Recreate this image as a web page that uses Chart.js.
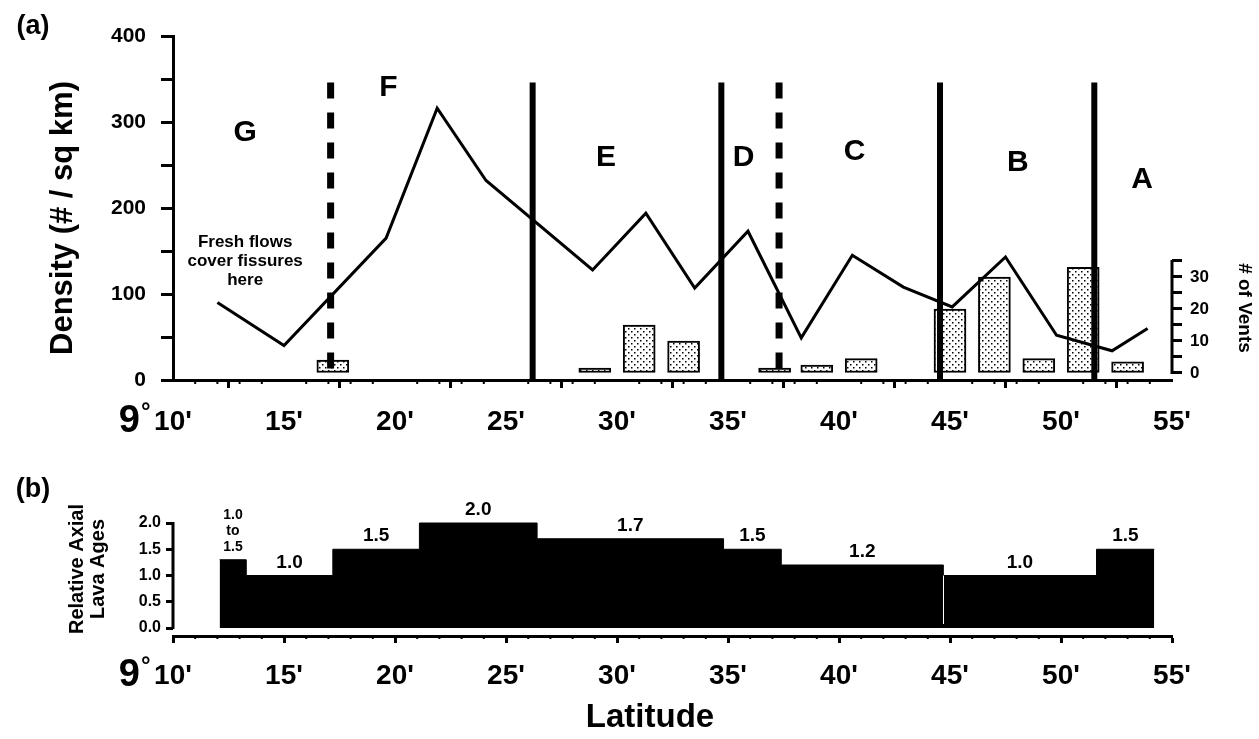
<!DOCTYPE html>
<html>
<head>
<meta charset="utf-8">
<title>Fissure density, vents and relative lava ages, 9°10'-55'N</title>
<script src="https://cdn.jsdelivr.net/npm/chart.js@4.4.1/dist/chart.umd.min.js"></script>
<style>
  html, body { margin: 0; padding: 0; background: #fff; }
  #figure { position: relative; width: 1259px; height: 739px; overflow: hidden; }
  #figure canvas { position: absolute; left: 0; }
  #densityChart { top: 0; }
  #ageChart { top: 450px; }
</style>
</head>
<body>
<div id="figure">
  <canvas id="densityChart" width="1259" height="450"></canvas>
  <canvas id="ageChart" width="1259" height="289"></canvas>
</div>
<script>
// (a) fissure density along the axis, latitude in minutes north of 9°N
var densityLat = [12.0, 15.0, 19.6, 21.9, 24.1, 28.9, 31.3, 33.5, 35.9, 38.3, 40.6, 42.9, 45.1, 47.5, 49.8, 52.3, 53.9];
var density = [90, 40, 165, 316, 232, 128, 194, 107, 173, 49, 145, 108, 85, 143, 52, 34, 60];

// (a) number of vents (stippled bars, right-hand axis)
var ventLat = [17.2, 29.0, 31.0, 33.0, 37.1, 39.0, 41.0, 45.0, 47.0, 49.0, 51.0, 53.0];
var ventCount = [4, 1.5, 15, 10, 1.5, 2.5, 4.5, 20, 30, 4.5, 33, 3.5];

// segment boundaries and names, G in the south to A in the north
var boundaryLat = [17.1, 26.2, 34.7, 37.3, 44.55, 51.5];
var boundaryDashed = [true, false, false, true, false, false];
var segmentNames = ['G', 'F', 'E', 'D', 'C', 'B', 'A'];

// (b) relative axial lava ages, one step per stretch of ridge
var ageFrom = [12.1, 13.3, 17.2, 21.1, 26.4, 34.8, 37.4, 44.7, 51.6];
var ageTo = 54.2;
var ageValue = [1.3, 1.0, 1.5, 2.0, 1.7, 1.5, 1.2, 1.0, 1.5];
var ageText = ['1.0\nto\n1.5', '1.0', '1.5', '2.0', '1.7', '1.5', '1.2', '1.0', '1.5'];

// tick labels
var latTicks = [10, 15, 20, 25, 30, 35, 40, 45, 50, 55];
var densityTicks = [0, 100, 200, 300, 400];
var ventTicks = [0, 10, 20, 30];
var ageTicks = [0, 0.5, 1.0, 1.5, 2.0];

var FONT = "'Liberation Sans', Arial, Helvetica, sans-serif";
var NARROW = "'Liberation Sans Narrow', " + FONT;
var INK = '#000';

// where the segment letters sit, as [latitude, density]
var nameSpots = [[13.25, 287], [19.7, 340], [29.5, 258], [35.7, 258], [40.7, 266], [48.05, 253], [53.65, 233]];

function text(ctx, str, x, y, size, align, rot, family) {
    ctx.save();
    ctx.translate(x, y);
    if (rot) ctx.rotate(rot);
    ctx.font = 'bold ' + size + 'px ' + (family || FONT);
    ctx.fillStyle = INK;
    ctx.textAlign = align || 'center';
    ctx.textBaseline = 'middle';
    ctx.fillText(str, 0, 0);
    ctx.restore();
}

function minorTicks(chart, len) {
    var ctx = chart.ctx, x = chart.scales.x;
    ctx.save();
    ctx.strokeStyle = INK;
    ctx.lineWidth = 2;
    for (var v = x.min; v <= x.max; v++) {
        if (v % 5 === 0) continue;
        var px = x.getPixelForValue(v);
        ctx.beginPath();
        ctx.moveTo(px, x.top);
        ctx.lineTo(px, x.top + len);
        ctx.stroke();
    }
    ctx.restore();
}

function degreeMark(ctx, xScale, cy) {
    var px = xScale.getPixelForValue(10);
    text(ctx, '9', px - 33, cy, 38, 'right', 0, NARROW);
    text(ctx, '°', px - 32, cy - 10, 24, 'left');
}

function makeDots(ctx) {
    var c = document.createElement('canvas');
    c.width = 6;
    c.height = 6;
    var g = c.getContext('2d');
    g.fillStyle = '#fff';
    g.fillRect(0, 0, 6, 6);
    g.fillStyle = INK;
    g.fillRect(1, 1, 1.5, 1.5);
    g.fillRect(4, 4, 1.5, 1.5);
    return ctx.createPattern(c, 'repeat');
}

function latAxis(tickLen, pad, height) {
    return {
        type: 'linear',
        min: 10,
        max: 55,
        offset: false,
        afterBuildTicks: function (s) {
            s.ticks = latTicks.map(function (v) { return { value: v }; });
        },
        ticks: {
            autoSkip: false,
            maxRotation: 0,
            color: INK,
            padding: pad,
            font: { family: NARROW, size: 28, weight: 'bold' },
            callback: function (v) { return v + "'"; }
        },
        grid: { drawOnChartArea: false, tickLength: tickLen, tickWidth: 3, tickColor: INK },
        border: { color: INK, width: 3 },
        afterFit: function (s) { s.height = height; }
    };
}

var densityDecor = {
    id: 'densityDecor',
    afterDatasetsDraw: function (chart) {
        var ctx = chart.ctx, x = chart.scales.x, y = chart.scales.y;
        ctx.save();
        ctx.strokeStyle = INK;
        boundaryLat.forEach(function (lat, i) {
            var px = x.getPixelForValue(lat);
            ctx.lineWidth = boundaryDashed[i] ? 7 : 6;
            ctx.setLineDash(boundaryDashed[i] ? [16, 14] : []);
            ctx.beginPath();
            ctx.moveTo(px, y.getPixelForValue(346));
            ctx.lineTo(px, y.getPixelForValue(0));
            ctx.stroke();
        });
        ctx.restore();
    },
    afterDraw: function (chart) {
        var ctx = chart.ctx, x = chart.scales.x, y = chart.scales.y, y2 = chart.scales.y2;
        ctx.save();
        ctx.strokeStyle = INK;
        ctx.lineWidth = 3;
        ctx.beginPath();
        ctx.moveTo(y2.left, y2.getPixelForValue(0) + 1);
        ctx.lineTo(y2.left, y2.getPixelForValue(35) - 1);
        ctx.stroke();
        ctx.restore();
        minorTicks(chart, 4);

        segmentNames.forEach(function (n, i) {
            text(ctx, n, x.getPixelForValue(nameSpots[i][0]), y.getPixelForValue(nameSpots[i][1]), 30);
        });
        ['Fresh flows', 'cover fissures', 'here'].forEach(function (s, i) {
            text(ctx, s, x.getPixelForValue(13.25), 242 + i * 19, 17);
        });
        text(ctx, '(a)', 33, 27, 27);
        text(ctx, 'Density (# / sq km)', 63, 218, 31, 'center', -Math.PI / 2);
        text(ctx, '# of Vents', 1244, 308, 19, 'center', Math.PI / 2);
        degreeMark(ctx, x, 422);
    }
};

var ageDecor = {
    id: 'ageDecor',
    afterDatasetsDraw: function (chart) {
        var ctx = chart.ctx, x = chart.scales.x, y = chart.scales.y;
        // hairline gap between the 1.2 and 1.0 blocks
        var px = Math.round(x.getPixelForValue(ageFrom[7])) + 0.5;
        ctx.save();
        ctx.strokeStyle = '#fff';
        ctx.lineWidth = 1;
        ctx.beginPath();
        ctx.moveTo(px, y.getPixelForValue(0) - 4);
        ctx.lineTo(px, y.getPixelForValue(ageValue[7]));
        ctx.stroke();
        ctx.restore();
    },
    afterDraw: function (chart) {
        var ctx = chart.ctx, x = chart.scales.x, y = chart.scales.y;
        ctx.save();
        ctx.strokeStyle = INK;
        ctx.lineWidth = 3;
        ctx.beginPath();
        ctx.moveTo(y.right, y.getPixelForValue(0) + 1);
        ctx.lineTo(y.right, y.getPixelForValue(2) - 1);
        ctx.stroke();
        ctx.restore();
        minorTicks(chart, 3);

        ageFrom.forEach(function (from, i) {
            var to = i + 1 < ageFrom.length ? ageFrom[i + 1] : ageTo;
            var cx = x.getPixelForValue((from + to) / 2);
            var top = y.getPixelForValue(ageValue[i]);
            var lines = ageText[i].split('\n');
            var size = lines.length > 1 ? 14 : 19;
            lines.forEach(function (s, k) {
                text(ctx, s, cx, top - 13 - (lines.length - 1 - k) * 16, size);
            });
        });
        text(ctx, '(b)', 33, 40, 27);
        text(ctx, 'Relative Axial', 77, 119, 20, 'center', -Math.PI / 2);
        text(ctx, 'Lava Ages', 98, 119, 20, 'center', -Math.PI / 2);
        text(ctx, 'Latitude', 650, 268, 33);
        degreeMark(ctx, x, 226);
    }
};

var dCanvas = document.getElementById('densityChart');
var dots = makeDots(dCanvas.getContext('2d'));

new Chart(dCanvas, {
    type: 'line',
    data: {
        datasets: [{
            type: 'line',
            label: 'Density (# / sq km)',
            data: densityLat.map(function (lat, i) { return { x: lat, y: density[i] }; }),
            yAxisID: 'y',
            borderColor: INK,
            borderWidth: 3,
            pointRadius: 0,
            tension: 0,
            fill: false,
            order: 0
        }, {
            type: 'bar',
            label: '# of Vents',
            data: ventLat.map(function (lat, i) { return { x: lat, y: ventCount[i] }; }),
            yAxisID: 'y2',
            backgroundColor: dots,
            borderColor: INK,
            borderWidth: 2,
            borderSkipped: false,
            barThickness: 32,
            order: 1
        }]
    },
    options: {
        responsive: false,
        animation: false,
        layout: { padding: { top: 36 } },
        plugins: { legend: { display: false }, tooltip: { enabled: false } },
        scales: {
            x: latAxis(8, 17, 70),
            y: {
                min: 0,
                max: 400,
                ticks: {
                    stepSize: 50,
                    color: INK,
                    padding: 15,
                    font: { family: FONT, size: 21, weight: 'bold' },
                    callback: function (v) { return densityTicks.indexOf(v) >= 0 ? String(v) : ''; }
                },
                grid: { drawOnChartArea: false, tickLength: 12, tickWidth: 3, tickColor: INK },
                border: { color: INK, width: 3 },
                afterFit: function (s) { s.width = 173; }
            },
            y2: {
                position: 'right',
                min: -2.19,
                max: 105.3,
                afterBuildTicks: function (s) {
                    var marks = [];
                    for (var v = 0; v <= 35; v += 5) marks.push({ value: v });
                    s.ticks = marks;
                },
                ticks: {
                    color: INK,
                    padding: 8,
                    font: { family: FONT, size: 17, weight: 'bold' },
                    callback: function (v) { return ventTicks.indexOf(v) >= 0 ? String(v) : ''; }
                },
                grid: { drawOnChartArea: false, tickLength: 10, tickWidth: 3, tickColor: INK },
                border: { display: false },
                afterFit: function (s) { s.width = 87; }
            }
        }
    },
    plugins: [densityDecor]
});

var agePoints = ageFrom.map(function (lat, i) { return { x: lat, y: ageValue[i] }; });
agePoints.push({ x: ageTo, y: ageValue[ageValue.length - 1] });

new Chart(document.getElementById('ageChart'), {
    type: 'line',
    data: {
        datasets: [{
            label: 'Relative Axial Lava Ages',
            data: agePoints,
            stepped: 'before',
            fill: 'origin',
            backgroundColor: INK,
            borderColor: INK,
            borderWidth: 1,
            pointRadius: 0
        }]
    },
    options: {
        responsive: false,
        animation: false,
        layout: { padding: { top: 30, right: 87 } },
        plugins: { legend: { display: false }, tooltip: { enabled: false } },
        scales: {
            x: latAxis(7, 16, 103),
            y: {
                min: -0.152,
                max: 2.819,
                afterBuildTicks: function (s) {
                    s.ticks = ageTicks.map(function (v) { return { value: v }; });
                },
                ticks: {
                    color: INK,
                    padding: 5,
                    font: { family: FONT, size: 16, weight: 'bold' },
                    callback: function (v) { return v.toFixed(1); }
                },
                grid: { drawOnChartArea: false, tickLength: 7, tickWidth: 3, tickColor: INK },
                border: { display: false },
                afterFit: function (s) { s.width = 173; }
            }
        }
    },
    plugins: [ageDecor]
});
</script>
</body>
</html>
